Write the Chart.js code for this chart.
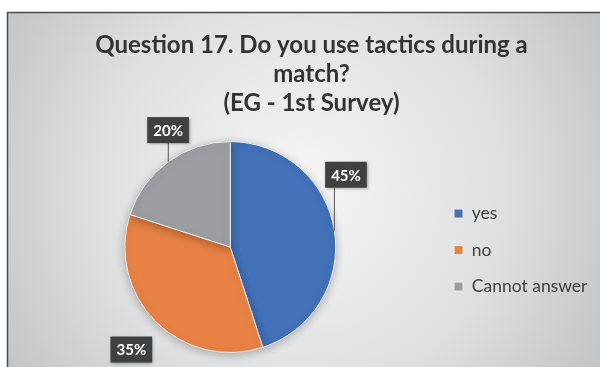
<!DOCTYPE html>
<html>
<head>
<meta charset="utf-8">
<script src="https://cdn.jsdelivr.net/npm/chart.js@4.4.0/dist/chart.umd.min.js"></script>
<style>
  html, body { margin: 0; padding: 0; background: #fff; }
  #wrap { width: 605px; height: 367px; position: relative; }
</style>
</head>
<body>
<div id="wrap"><canvas id="pieChart" width="605" height="367"></canvas></div>
<script>
// data
const categories = ['yes', 'no', 'Cannot answer'];
const shares = [45, 35, 20];
const titleLines = ['Question 17. Do you use tactics during a', 'match?', '(EG - 1st Survey)'];

const sliceColors = ['#4271b8', '#e78244', '#9d9ea2'];

// label placement tweaks (angle shift in degrees, distance beyond radius, leader line)
const labelStyle = [
  { shift: -23, dist: 31, leader: true },
  { shift: -1, dist: 37, leader: false },
  { shift: 8, dist: 27, leader: true }
];

// frame + gradient background, pie shadow
const bgPlugin = {
  id: 'bg',
  afterLayout(chart) {
    // keep the legend column centred on the pie, next to it
    const lg = chart.legend;
    const ca = chart.chartArea;
    lg.top = ca.top + 3;
    lg.bottom = ca.bottom + 3;
    lg.height = ca.bottom - ca.top;
    const w = lg.width;
    lg.left = 435;
    lg.right = lg.left + w;
  },
  beforeDraw(chart) {
    const ctx = chart.ctx;
    const w = chart.width, h = chart.height;
    ctx.save();
    ctx.fillStyle = '#ffffff';
    ctx.fillRect(0, 0, w, h);
    const g = ctx.createRadialGradient(300, 190, 20, 300, 190, 360);
    g.addColorStop(0, '#f4f4f4');
    g.addColorStop(0.55, '#dedfe0');
    g.addColorStop(1, '#c0c1c3');
    ctx.fillStyle = g;
    ctx.fillRect(7, 12, 593, h - 12);
    ctx.strokeStyle = '#4a4a4a';
    ctx.lineWidth = 1.5;
    ctx.beginPath();
    ctx.moveTo(7.5, h);
    ctx.lineTo(7.5, 12.5);
    ctx.lineTo(600, 12.5);
    ctx.stroke();
    ctx.restore();
  },
  beforeDatasetsDraw(chart) {
    const ctx = chart.ctx;
    ctx.save();
    ctx.shadowColor = 'rgba(0,0,0,0.25)';
    ctx.shadowBlur = 8;
    ctx.shadowOffsetY = 2;
  },
  afterDatasetsDraw(chart) {
    chart.ctx.restore();
  }
};

// percentage boxes with leader lines
const labelPlugin = {
  id: 'boxLabels',
  afterDraw(chart) {
    const ctx = chart.ctx;
    const meta = chart.getDatasetMeta(0);
    const vals = chart.data.datasets[0].data;
    const total = vals.reduce((a, b) => a + b, 0);
    ctx.save();
    ctx.font = 'bold 15px Lato';
    meta.data.forEach((arc, i) => {
      const st = labelStyle[i];
      const mid = (arc.startAngle + arc.endAngle) / 2;
      const r = arc.outerRadius;
      const ang = mid + st.shift * Math.PI / 180;
      const cx = arc.x + Math.cos(ang) * (r + st.dist);
      const cy = arc.y + Math.sin(ang) * (r + st.dist);
      const txt = Math.round(vals[i] / total * 100) + '%';
      const bw = ctx.measureText(txt).width + 12;
      const bh = 26;
      const x0 = cx - bw / 2, y0 = cy - bh / 2;
      if (st.leader) {
        const ex = arc.x + Math.cos(mid) * r;
        const ey = arc.y + Math.sin(mid) * r;
        const lx = Math.min(Math.max(ex, x0), x0 + bw);
        const ly = Math.min(Math.max(ey, y0), y0 + bh);
        ctx.strokeStyle = '#555';
        ctx.lineWidth = 1;
        ctx.beginPath();
        ctx.moveTo(ex, ey);
        ctx.lineTo(lx, ly);
        ctx.stroke();
      }
      ctx.shadowColor = 'rgba(0,0,0,0.35)';
      ctx.shadowBlur = 3;
      ctx.shadowOffsetX = 1;
      ctx.shadowOffsetY = 1;
      ctx.fillStyle = '#404040';
      ctx.fillRect(x0, y0, bw, bh);
      ctx.shadowColor = 'transparent';
      ctx.fillStyle = '#ffffff';
      ctx.textAlign = 'center';
      ctx.textBaseline = 'middle';
      ctx.fillText(txt, cx, cy + 1);
    });
    ctx.restore();
  }
};

const ctx = document.getElementById('pieChart').getContext('2d');
new Chart(ctx, {
  type: 'pie',
  data: {
    labels: categories,
    datasets: [{
      data: shares,
      backgroundColor: sliceColors,
      borderColor: '#eeeeee',
      borderWidth: 1
    }]
  },
  options: {
    responsive: false,
    animation: false,
    layout: { padding: { top: 31, bottom: 14, left: 28, right: 10 } },
    plugins: {
      title: {
        display: true,
        text: titleLines,
        color: '#333333',
        font: { family: 'Lato', size: 24, weight: 'bold', lineHeight: 1.21 },
        padding: { top: 0, bottom: 23 }
      },
      legend: {
        position: 'right',
        labels: {
          color: '#404040',
          font: { family: 'Lato', size: 17.5 },
          boxWidth: 9,
          boxHeight: 9,
          padding: 19
        }
      },
      tooltip: { enabled: false }
    }
  },
  plugins: [bgPlugin, labelPlugin]
});
</script>
</body>
</html>
